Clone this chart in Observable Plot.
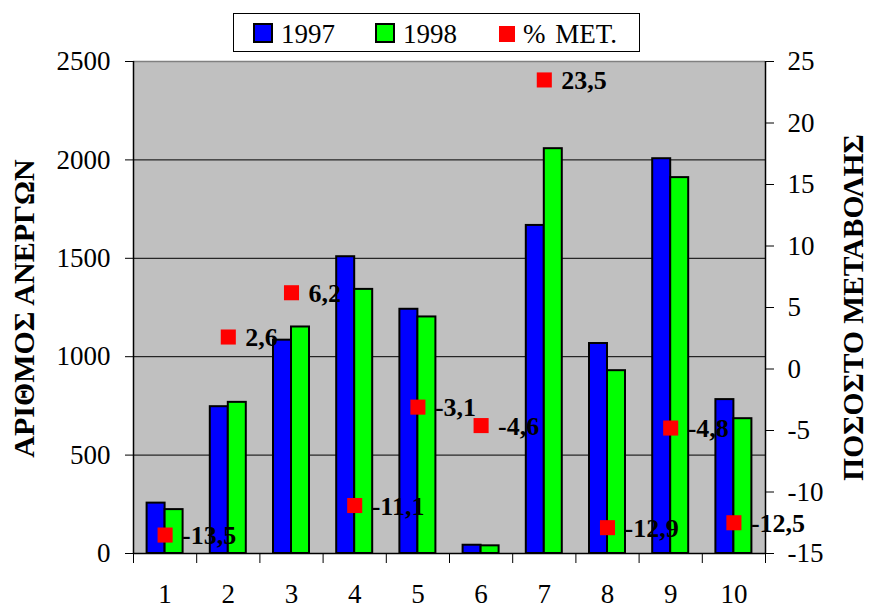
<!DOCTYPE html>
<html>
<head>
<meta charset="utf-8">
<script src="https://cdn.jsdelivr.net/npm/d3@7"></script>
<script src="https://cdn.jsdelivr.net/npm/@observablehq/plot@0.6"></script>
</head>
<body style="margin:0;background:#fff">
<div id="wrap" style="position:relative;width:870px;height:608px">
  <div id="legend" style="position:absolute;left:233px;top:13px;width:405px;height:37px;border:1.5px solid #000;background:#fff;font-family:'Liberation Serif';font-size:27px;line-height:27px;z-index:2">
    <div style="position:absolute;box-sizing:border-box;left:19px;top:9px;width:20px;height:20px;background:#0000ff;border:2px solid #000"></div>
    <div id="lg0" style="position:absolute;white-space:nowrap;left:47px;top:7px;font-family:'Liberation Serif'"></div>
    <div style="position:absolute;box-sizing:border-box;left:141px;top:9px;width:20px;height:20px;background:#00ff00;border:2px solid #000"></div>
    <div id="lg1" style="position:absolute;white-space:nowrap;left:169px;top:7px;font-family:'Liberation Serif'"></div>
    <div style="position:absolute;left:265px;top:12px;width:16px;height:16px;background:#ff0000"></div>
    <div id="lg2" style="position:absolute;white-space:nowrap;left:289px;top:7px;font-family:'Liberation Serif';word-spacing:3px"></div>
  </div>
</div>
<script>
const categories = [1, 2, 3, 4, 5, 6, 7, 8, 9, 10];
const values1997 = [256, 746, 1084, 1508, 1241, 42, 1667, 1067, 2006, 782];
const values1998 = [223, 768, 1151, 1342, 1202, 39, 2057, 929, 1910, 685];
const pctChange = [-13.5, 2.6, 6.2, -11.1, -3.1, -4.6, 23.5, -12.9, -4.8, -12.5];
const leftTicks = [0, 500, 1000, 1500, 2000, 2500];
const rightTicks = [-15, -10, -5, 0, 5, 10, 15, 20, 25];
const seriesNames = ["1997", "1998", "% MET."];
const leftTitle = "ΑΡΙΘΜΟΣ ΑΝΕΡΓΩΝ";
const rightTitle = "ΠΟΣΟΣΤΟ ΜΕΤΑΒΟΛΗΣ";

seriesNames.forEach((s, i) => { document.getElementById("lg" + i).textContent = s; });

// map right-axis (percent) domain [-15,25] onto left-axis domain [0,2500]
const pctToY = p => (p - rightTicks[0]) * (leftTicks[leftTicks.length - 1] / (rightTicks[rightTicks.length - 1] - rightTicks[0]));
const yToPct = v => Math.round(v / (leftTicks[leftTicks.length - 1] / (rightTicks[rightTicks.length - 1] - rightTicks[0])) + rightTicks[0]);

const rows = categories.map((c, i) => ({cat: c, v97: values1997[i], v98: values1998[i], pct: pctChange[i]}));
const bounds = [0, ...categories].map(c => c + 0.5);
const font = "Liberation Serif";

const chart = Plot.plot({
  width: 870,
  height: 608,
  marginLeft: 133,
  marginRight: 105,
  marginTop: 61,
  marginBottom: 55,
  style: {fontFamily: font, fontSize: "27px", background: "#fff", color: "#000"},
  x: {type: "linear", domain: [0.5, 10.5]},
  y: {domain: [0, 2500]},
  marks: [
    Plot.frame({fill: "#c0c0c0", stroke: null}),
    Plot.ruleY(leftTicks.slice(1, -1), {stroke: "#000", strokeWidth: 1}),
    Plot.ruleY([leftTicks[leftTicks.length - 1]], {stroke: "#808080", strokeWidth: 1.5}),
    Plot.rect(rows, {x1: d => d.cat - 0.5, x2: d => d.cat, y1: 0, y2: "v97", insetLeft: 13.6, fill: "#0000ff", stroke: "#000", strokeWidth: 2}),
    Plot.rect(rows, {x1: d => d.cat, x2: d => d.cat + 0.5, y1: 0, y2: "v98", insetRight: 13.6, fill: "#00ff00", stroke: "#000", strokeWidth: 2}),
    Plot.ruleX([0.5, 10.5], {stroke: "#000", strokeWidth: 1.5}),
    Plot.ruleY([0], {stroke: "#000", strokeWidth: 1.5}),
    Plot.axisY({ticks: leftTicks, tickSize: 8, tickPadding: 15, label: null, fontSize: 27, fontFamily: font, tickFormat: d => String(d)}),
    Plot.axisY({anchor: "right", ticks: rightTicks.map(pctToY), tickSize: 8, tickPadding: 14, label: null, fontSize: 27, fontFamily: font, tickFormat: v => String(yToPct(v))}),
    Plot.axisX({ticks: categories, tickSize: 0, tickPadding: 30, label: null, fontSize: 27, fontFamily: font, tickFormat: d => String(d)}),
    Plot.axisX({ticks: bounds, tickSize: 10, tickFormat: () => "", label: null}),
    Plot.dot(rows, {x: "cat", y: d => pctToY(d.pct), symbol: "square", r: 8.5, fill: "#ff0000", stroke: null}),
    Plot.text(rows, {x: "cat", y: d => pctToY(d.pct), text: d => String(d.pct).replace(".", ","), textAnchor: "start", dx: 17, dy: 1, fontFamily: font, fontWeight: "bold", fontSize: 26, fill: "#000", lineAnchor: "middle"}),
    Plot.text([leftTitle], {frameAnchor: "left", dx: -109, dy: 1, rotate: -90, fontFamily: font, fontWeight: "bold", fontSize: 30, fill: "#000", lineAnchor: "middle", textAnchor: "middle"}),
    Plot.text([rightTitle], {frameAnchor: "right", dx: 88, dy: 0, rotate: -90, fontFamily: font, fontWeight: "bold", fontSize: 29.5, fill: "#000", lineAnchor: "middle", textAnchor: "middle"})
  ]
});
chart.style.position = "absolute";
chart.style.left = "0";
chart.style.top = "0";
chart.style.fontFamily = font;
document.getElementById("wrap").appendChild(chart);
</script>
</body>
</html>
